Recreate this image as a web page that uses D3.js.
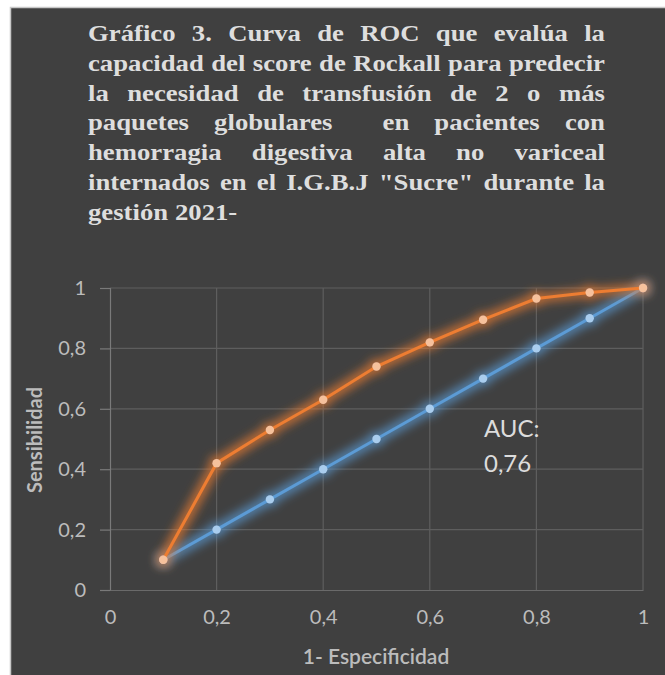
<!DOCTYPE html>
<html><head><meta charset="utf-8">
<script src="https://cdn.jsdelivr.net/npm/d3@7/dist/d3.min.js"></script>
<style>html,body{margin:0;padding:0;background:#fff;}svg{display:block;}</style>
</head><body><svg id="c" width="665" height="675"></svg>
<script>
const titleLines = [
  "Gráfico 3. Curva de ROC que evalúa la",
  "capacidad del score de Rockall para predecir",
  "la necesidad de transfusión de 2 o más",
  "paquetes globulares  en pacientes con",
  "hemorragia digestiva alta no variceal",
  "internados en el I.G.B.J \"Sucre\" durante la",
  "gestión 2021-"
];
const xValues = [0.1, 0.2, 0.3, 0.4, 0.5, 0.6, 0.7, 0.8, 0.9, 1.0];
const rockallSens = [0.1, 0.42, 0.53, 0.63, 0.74, 0.82, 0.895, 0.965, 0.985, 1.0];
const referenceSens = [0.1, 0.2, 0.3, 0.4, 0.5, 0.6, 0.7, 0.8, 0.9, 1.0];
const tickValues = [0, 0.2, 0.4, 0.6, 0.8, 1];
const tickLabels = ["0", "0,2", "0,4", "0,6", "0,8", "1"];
const xTitle = "1- Especificidad";
const yTitle = "Sensibilidad";
const aucLines = ["AUC:", "0,76"];

const svg = d3.select("#c");
const defs = svg.append("defs");
function glow(id, color, sd, op) {
  const f = defs.append("filter").attr("id", id).attr("filterUnits", "userSpaceOnUse")
    .attr("x", 0).attr("y", 0).attr("width", 665).attr("height", 675);
  f.append("feMorphology").attr("in", "SourceAlpha").attr("operator", "dilate").attr("radius", 2.5).attr("result", "d");
  f.append("feGaussianBlur").attr("in", "d").attr("stdDeviation", sd).attr("result", "b");
  f.append("feFlood").attr("flood-color", color).attr("flood-opacity", op).attr("result", "fl");
  f.append("feComposite").attr("in", "fl").attr("in2", "b").attr("operator", "in").attr("result", "g");
  const m = f.append("feMerge");
  m.append("feMergeNode").attr("in", "g");
  m.append("feMergeNode").attr("in", "SourceGraphic");
}
glow("gOrange", "#ED7D31", 5, 0.7);
glow("gBlue", "#5B9BD5", 5, 0.7);

// background
svg.append("rect").attr("x", 10.5).attr("y", 7.5).attr("width", 660).attr("height", 670)
  .attr("fill", "#404040").attr("stroke", "#c8c8c8").attr("stroke-width", 1.5);

// title, justified
const tLeft = 88, tRight = 605, tW = tRight - tLeft;
const fs = 23.5;
const tg = svg.append("g").attr("font-family", "'Liberation Serif','Times New Roman',serif")
  .attr("font-weight", "bold").attr("fill", "#dedede");
const probe = tg.append("text").attr("font-size", fs).text(titleLines[1]);
const sx = Math.max(0.85, Math.min(1.25, (tW - 4) / probe.node().getComputedTextLength()));
probe.remove();
titleLines.forEach((line, i) => {
  const y = 41 + i * 29.8;
  const words = line.split(" ");
  const tmp = tg.append("text").attr("font-size", fs);
  const widths = words.map(w => { tmp.text(w); return w ? tmp.node().getComputedTextLength() * sx : 0; });
  tmp.text("a a"); const sp = tmp.node().getComputedTextLength(); tmp.text("aa"); const spW = (sp - tmp.node().getComputedTextLength()) * sx;
  tmp.remove();
  const total = d3.sum(widths);
  const last = i === titleLines.length - 1;
  const gap = last ? spW : (tW - total) / (words.length - 1);
  let x = tLeft;
  words.forEach((w, j) => {
    if (w) tg.append("text").attr("font-size", fs)
      .attr("transform", `translate(${x},${y}) scale(${sx},1)`).text(w);
    x += widths[j] + gap;
  });
});

// plot
const x = d3.scaleLinear().domain([0, 1]).range([110, 643]);
const y = d3.scaleLinear().domain([0, 1]).range([590, 288]);
const font = "Lato, 'Open Sans', sans-serif";
const labelColor = "#bcbcbc";

// grid
svg.append("g").selectAll("line.v").data(tickValues.slice(1)).join("line")
  .attr("x1", d => x(d)).attr("x2", d => x(d)).attr("y1", y(0)).attr("y2", y(1))
  .attr("stroke", "#5e5e5e").attr("stroke-width", 1.2);
svg.append("g").selectAll("line.h").data(tickValues.slice(1)).join("line")
  .attr("x1", x(0)).attr("x2", x(1)).attr("y1", d => y(d)).attr("y2", d => y(d))
  .attr("stroke", "#5e5e5e").attr("stroke-width", 1.2);

// y axis
const yAxis = d3.axisLeft(y).tickValues(tickValues).tickFormat((d, i) => tickLabels[i]).tickSize(10).tickPadding(14);
const ya = svg.append("g").attr("transform", `translate(${x(0)},0)`).call(yAxis);
ya.select(".domain").attr("stroke", "#7a7a7a").attr("stroke-width", 1.2);
ya.selectAll(".tick line").attr("stroke", "#7a7a7a").attr("stroke-width", 1.2);
ya.selectAll(".tick text").attr("fill", labelColor).attr("font-size", 20).attr("font-family", font);

// x axis (line + labels, no ticks)
const xAxis = d3.axisBottom(x).tickValues(tickValues).tickFormat((d, i) => tickLabels[i]).tickSize(0).tickPadding(20);
const xa = svg.append("g").attr("transform", `translate(0,${y(0)})`).call(xAxis);
xa.select(".domain").attr("stroke", "#6a6a6a").attr("stroke-width", 1.2);
xa.selectAll(".tick text").attr("fill", labelColor).attr("font-size", 20).attr("font-family", font);

// axis titles
svg.append("text").attr("x", 376).attr("y", 664).attr("text-anchor", "middle")
  .attr("font-family", font).attr("font-size", 21).attr("font-weight", "600").attr("fill", labelColor).text(xTitle);
svg.append("text").attr("transform", "translate(42,440) rotate(-90)").attr("text-anchor", "middle")
  .attr("font-family", font).attr("font-size", 20).attr("font-weight", "bold").attr("fill", labelColor).text(yTitle);

// lines
const pts = vals => xValues.map((d, i) => [d, vals[i]]);
const line = d3.line().x(d => x(d[0])).y(d => y(d[1]));
function series(vals, color, fill, filt) {
  const g = svg.append("g").attr("filter", `url(#${filt})`);
  g.append("path").datum(pts(vals)).attr("d", line).attr("fill", "none").attr("stroke", color).attr("stroke-width", 3);
  g.selectAll("circle").data(pts(vals)).join("circle")
    .attr("cx", d => x(d[0])).attr("cy", d => y(d[1])).attr("r", 4.2).attr("fill", fill);
}
series(referenceSens, "#5B9BD5", "#a9cdee", "gBlue");
series(rockallSens, "#ED7D31", "#f6c19c", "gOrange");

// AUC label
aucLines.forEach((t, i) => {
  svg.append("text").attr("x", 484).attr("y", 437 + i * 35).attr("font-family", font).attr("font-size", 24)
    .attr("fill", "#dcdcdc").text(t);
});
</script></body></html>
